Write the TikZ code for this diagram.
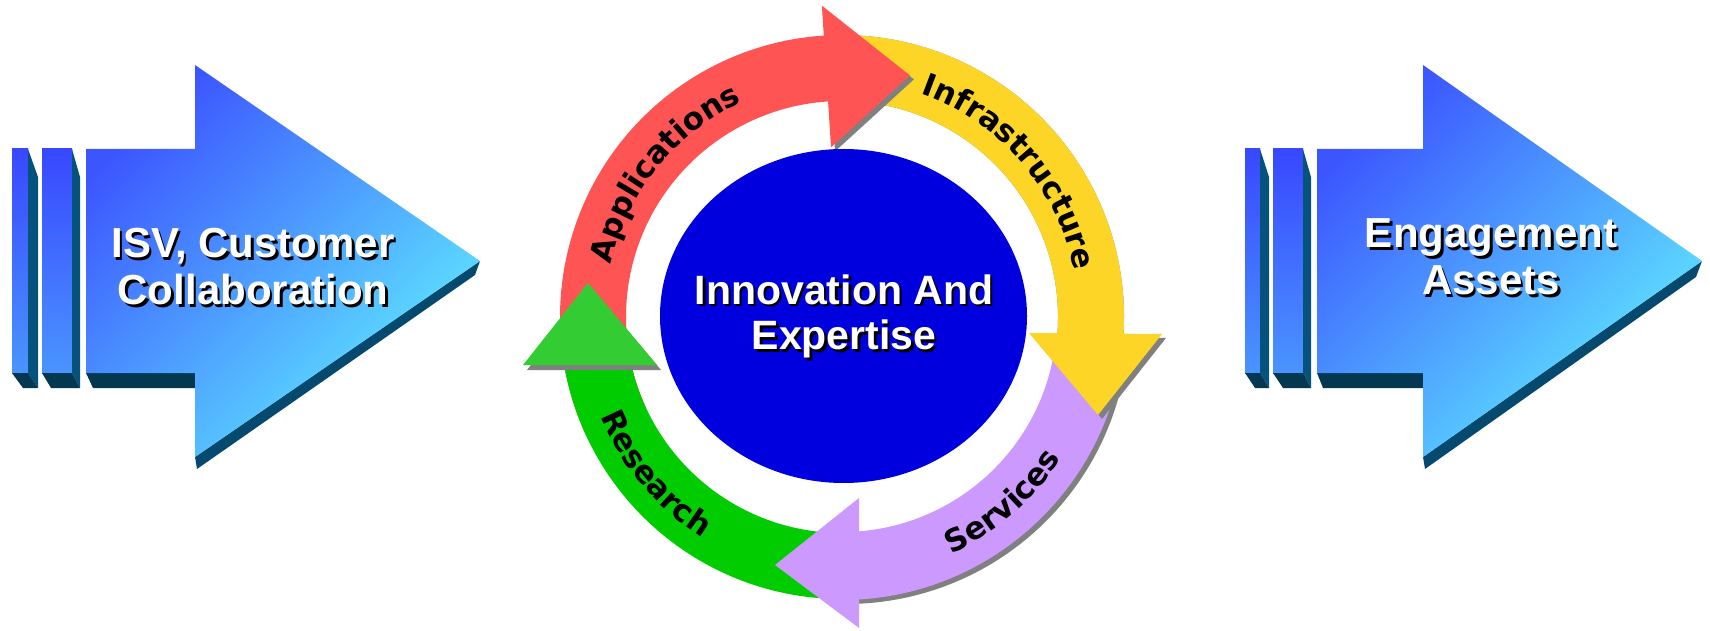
\documentclass[tikz,border=0pt]{standalone}
\usepackage{fontspec}
\setmainfont{Liberation Sans}
\newfontfamily\ringfam{DejaVu Sans}
\usetikzlibrary{calc,decorations.text}
\definecolor{arrA}{RGB}{60,86,255}
\definecolor{arrB}{RGB}{96,236,255}
\definecolor{barTop}{RGB}{56,72,255}
\definecolor{barBot}{RGB}{74,148,255}
\definecolor{sideC}{RGB}{5,83,124}
\definecolor{baseC}{RGB}{3,56,80}
\definecolor{tipC}{RGB}{5,74,110}
\definecolor{redc}{RGB}{255,84,84}
\definecolor{yellowc}{RGB}{253,213,39}
\definecolor{purplec}{RGB}{204,153,255}
\definecolor{greenc}{RGB}{0,204,0}
\definecolor{greenhead}{RGB}{51,204,51}
\definecolor{bluec}{RGB}{0,0,222}
\definecolor{shadowgray}{RGB}{128,128,128}
\newcommand\ringfont{\ringfam\bfseries\fontsize{31}{31}\selectfont}
\begin{document}
\begin{tikzpicture}[x=1pt,y=1pt,
  barshade/.style={top color=barTop, bottom color=barBot},
  bodyshade/.style={top color=arrA, bottom color=arrB, shading angle=45},
  sideface/.style={fill=sideC},
  baseface/.style={fill=baseC},
  tipface/.style={fill=tipC},
  bigtext/.style={font=\bfseries\fontsize{42}{47}\selectfont, text=white, anchor=base, inner sep=0pt},
  bigshadow/.style={bigtext, text=black},
  midtext/.style={font=\bfseries\fontsize{41}{46}\selectfont, text=white, anchor=base, inner sep=0pt},
  midshadow/.style={midtext, text=black},
  dropshadow/.style={fill=shadowgray},
  ringlabel/.style={decorate, decoration={text along path, text align=center, text={|\ringfont|#1}}}
]
\useasboundingbox (0,0) rectangle (1710,630);
\coordinate (C) at (842,313);

% ---------- left arrow ----------
\shade[barshade] (12,257) rectangle (28,481);
\fill[sideface] (28,481) -- (38,453) -- (38,242) -- (28,257) -- cycle;
\fill[baseface] (12,257) -- (28,257) -- (38,242) -- (23,242) -- cycle;
\shade[barshade] (42,257) rectangle (72,481);
\fill[sideface] (72,481) -- (80,453) -- (80,242) -- (72,257) -- cycle;
\fill[baseface] (42,257) -- (72,257) -- (80,242) -- (51,242) -- cycle;
\fill[baseface] (86,257) -- (195,257) -- (195,242) -- (93,242) -- cycle;
\fill[tipface] (480,369) -- (475,355) -- (197,161) -- (195,173) -- cycle;
\shade[bodyshade] (86,481) -- (195,481) -- (195,565) -- (480,369) -- (195,173) -- (195,257) -- (86,257) -- cycle;

% ---------- right arrow ----------
\shade[barshade] (1245,257) rectangle (1260,481);
\fill[sideface] (1260,481) -- (1269,453) -- (1269,242) -- (1260,257) -- cycle;
\fill[baseface] (1245,257) -- (1260,257) -- (1269,242) -- (1255,242) -- cycle;
\shade[barshade] (1273,257) rectangle (1303,481);
\fill[sideface] (1303,481) -- (1311,453) -- (1311,242) -- (1303,257) -- cycle;
\fill[baseface] (1273,257) -- (1303,257) -- (1311,242) -- (1283,242) -- cycle;
\fill[baseface] (1317,257) -- (1423,257) -- (1423,242) -- (1323,242) -- cycle;
\fill[tipface] (1702,369) -- (1696,353) -- (1425,161) -- (1423,173) -- cycle;
\shade[bodyshade] (1317,481) -- (1423,481) -- (1423,565) -- (1702,369) -- (1423,173) -- (1423,257) -- (1317,257) -- cycle;

% ---------- ring bands ----------
% red band
\fill[redc] ($(C)+(205:282)$) arc[start angle=205,end angle=92,radius=282]
  -- ($(C)+(92:216)$) arc[start angle=92,end angle=205,radius=216] -- cycle;
% green band
\fill[greenc] ($(C)+(268:282)$) arc[start angle=268,end angle=188,radius=282]
  -- ($(C)+(188:216)$) arc[start angle=188,end angle=268,radius=216] -- cycle;
% purple shadow + band + head
\fill[dropshadow] ($(C)+(4,-4)+(-9:283)$) arc[start angle=-9,end angle=-88,radius=283]
  -- ($(C)+(4,-4)+(-88:215)$) arc[start angle=-88,end angle=-9,radius=215] -- cycle;
\fill[purplec] ($(C)+(-9:283)$) arc[start angle=-9,end angle=-88,radius=283]
  -- ($(C)+(-88:215)$) arc[start angle=-88,end angle=-9,radius=215] -- cycle;
\fill[purplec] (859,132) -- (775,65) -- (859,2) -- cycle;
% yellow shadow + band + head
\begin{scope}[shift={(4,-4)}]
\fill[dropshadow] ($(C)+(88:282)$) arc[start angle=88,end angle=-6,radius=282]
  -- ($(C)+(-6:216)$) arc[start angle=-6,end angle=88,radius=216] -- cycle;
\fill[dropshadow] (1029,297) -- (1162,296) -- (1098,215) -- cycle;
\end{scope}
\fill[yellowc] ($(C)+(88:282)$) arc[start angle=88,end angle=-6,radius=282]
  -- ($(C)+(-6:216)$) arc[start angle=-6,end angle=88,radius=216] -- cycle;
\fill[yellowc] (1029,297) -- (1162,296) -- (1098,215) -- cycle;
% red head
\fill[dropshadow] ($(C)+(4,-4)+(93.7:312)$) -- ($(C)+(4,-4)+(74.3:251)$) -- ($(C)+(4,-4)+(93.7:170)$) -- cycle;
\fill[redc] ($(C)+(93.7:312)$) -- ($(C)+(74.3:251)$) -- ($(C)+(93.7:170)$) -- cycle;
% green head
\fill[dropshadow] (527,260) -- (661,260) -- (592,342) -- cycle;
\fill[greenhead] (523,265) -- (657,265) -- (588,347) -- cycle;

% ---------- centre ellipse ----------
\fill[bluec] (843.5,314) ellipse [x radius=183.5, y radius=167];

% ---------- ring labels ----------
\path[ringlabel=Applications] ($(C)+(181:237)$) arc[start angle=181,end angle=101,radius=237];
\path[ringlabel=Infrastructure] ($(C)+(86:237)$) arc[start angle=86,end angle=-4,radius=237];
\path[ringlabel=Research] ($(C)+(180:261)$) arc[start angle=180,end angle=260,radius=261];
\path[ringlabel=Services] ($(C)+(271:261)$) arc[start angle=271,end angle=351,radius=261];

% ---------- texts ----------
\node[bigshadow] (isvS) at (255.5,369.5) {ISV, Customer};
\node[bigtext] (isv) at (253,372) {ISV, Customer};
\node[bigshadow] (colS) at (255.5,322.5) {Collaboration};
\node[bigtext] (col) at (253,325) {Collaboration};

\node[bigshadow] (engS) at (1493.5,379.5) {Engagement};
\node[bigtext] (eng) at (1491,382) {Engagement};
\node[bigshadow] (assS) at (1493.5,332.5) {Assets};
\node[bigtext] (ass) at (1491,335) {Assets};

\node[midshadow] (innS) at (846.5,323.5) {Innovation And};
\node[midtext] (inn) at (844,326) {Innovation And};
\node[midshadow] (expS) at (846.5,277.5) {Expertise};
\node[midtext] (exp) at (844,280) {Expertise};
\end{tikzpicture}
\end{document}
